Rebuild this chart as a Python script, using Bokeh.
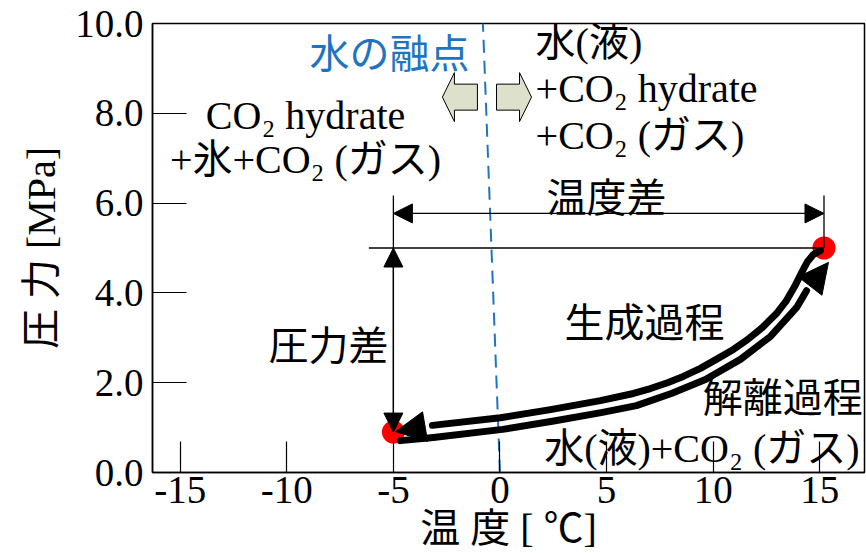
from bokeh.plotting import figure
from bokeh.models import Range1d, FixedTicker, Arrow, NormalHead, Label
from bokeh.embed import file_html
from bokeh.resources import INLINE

# ---- axis ticks -------------------------------------------------------------
x_ticks = [-15, -10, -5, 0, 5, 10, 15]
x_tick_labels = ["-15", "-10", "-5", "0", "5", "10", "15"]
y_ticks = [0, 2, 4, 6, 8, 10]
y_tick_labels = ["0.0", "2.0", "4.0", "6.0", "8.0", "10.0"]

# ---- process paths (temperature [degC], pressure [MPa]) ---------------------
# formation: cooling from the upper-right state; last point is the arrow tip
formation_T = [15.03, 14.71, 14.43, 14.15, 13.82, 13.44, 12.97, 12.31, 11.61,
               10.95, 10.15, 9.40, 8.60, 7.86, 7.06, 6.26, 4.71, 2.37, 0.02,
               -3.17, -4.90]
formation_P = [4.94, 4.86, 4.70, 4.45, 4.14, 3.83, 3.54, 3.23, 2.96,
               2.74, 2.52, 2.32, 2.14, 2.00, 1.87, 1.76, 1.60, 1.40, 1.22,
               1.05, 0.91]
# dissociation: heating from the lower-left state; last point is the arrow tip
dissociation_T = [-4.67, -3.12, 0.12, 2.46, 4.81, 6.40, 8.04, 9.64, 11.28,
                  12.69, 13.91, 14.38, 15.41]
dissociation_P = [0.71, 0.78, 0.96, 1.14, 1.34, 1.49, 1.76, 2.07, 2.52,
                  3.03, 3.67, 4.05, 4.68]

# start / end states
state_T = [-5.0, 15.2]
state_P = [0.9, 5.0]

# melting point of water
melt_T = [0.0, -0.8]
melt_P = [0.0, 10.0]

X_MIN, X_MAX = -16.3, 17.1
Y_MIN, Y_MAX = 0.0, 10.0
FRAME_W, FRAME_H = 712, 449
PX_T = FRAME_W / (X_MAX - X_MIN)   # pixels per degC
PX_P = FRAME_H / (Y_MAX - Y_MIN)   # pixels per MPa

SERIF_MIX = "Liberation Serif, Noto Sans CJK JP"
GOTHIC = "Noto Sans CJK JP"
BLUE = "#1f74c2"

p = figure(width=866, height=553, output_backend="svg", toolbar_location=None,
           x_range=Range1d(X_MIN, X_MAX), y_range=Range1d(Y_MIN, Y_MAX),
           min_border_left=152, min_border_right=2, min_border_top=23,
           min_border_bottom=81, background_fill_color="white",
           border_fill_color="white")
p.grid.visible = False
p.outline_line_color = "black"
p.outline_line_width = 1.5

for ax, ticks, labels, tin in ((p.xaxis, x_ticks, x_tick_labels, 31),
                               (p.yaxis, y_ticks, y_tick_labels, 34)):
    ax.ticker = FixedTicker(ticks=ticks)
    ax.major_label_overrides = dict(zip(ticks, labels))
    ax.major_tick_in = tin
    ax.major_tick_out = 0
    ax.minor_tick_line_color = None
    ax.major_tick_line_color = "black"
    ax.major_tick_line_width = 1.2
    ax.axis_line_color = "black"
    ax.axis_line_width = 1.5
    ax.major_label_text_font = "Liberation Serif"
    ax.major_label_text_font_size = "39px"
    ax.major_label_text_color = "black"
    ax.axis_label_text_font = SERIF_MIX
    ax.axis_label_text_font_size = "40px"
    ax.axis_label_text_font_style = "normal"
    ax.axis_label_text_color = "black"

p.xaxis.axis_label = "温 度 [ ℃]"
p.yaxis.axis_label = "圧 力 [MPa]"
p.xaxis.major_label_standoff = 4
p.yaxis.major_label_standoff = 9
p.xaxis.axis_label_standoff = 0
p.yaxis.axis_label_standoff = 8

# state points
p.scatter(state_T, state_P, size=23, fill_color="#ff0000", line_color=None)

# melting point line
p.line(melt_T, melt_P, line_color=BLUE, line_width=2, line_dash="13 8")

# dimension / extension lines
ext_top = 6.17
p.segment(x0=[state_T[0], state_T[1], -6.15], y0=[ext_top, ext_top, state_P[1]],
          x1=[state_T[0], state_T[1], state_T[1]], y1=[state_P[0], state_P[1], state_P[1]],
          line_color="black", line_width=1.3)

def dim_head():
    return NormalHead(size=19, fill_color="black", line_color="black", line_width=1)

p.add_layout(Arrow(x_start=state_T[0], y_start=5.77, x_end=state_T[1], y_end=5.77,
                   start=dim_head(), end=dim_head(), line_color="black", line_width=1.3))
p.add_layout(Arrow(x_start=state_T[0], y_start=state_P[1], x_end=state_T[0], y_end=state_P[0],
                   start=dim_head(), end=dim_head(), line_color="black", line_width=1.3))

# process curves with arrow heads at their ends
for T, P in ((formation_T, formation_P), (dissociation_T, dissociation_P)):
    p.line(T[:-1], P[:-1], line_color="black", line_width=7,
           line_cap="round", line_join="round")
    p.add_layout(Arrow(x_start=T[-2], y_start=P[-2], x_end=T[-1], y_end=P[-1],
                       end=NormalHead(size=30, fill_color="black", line_color="black",
                                      line_width=1),
                       line_alpha=0))

# block arrows on either side of the melting line
def block_arrow(tip_T, mid_P, direction):
    # outline in pixels, measured from the tip; direction +1 points right
    shape = [(0, 0), (12, 24.5), (12, 13), (35, 13), (35, -13), (12, -13), (12, -24.5)]
    xs = [tip_T - direction * dx / PX_T for dx, dy in shape]
    ys = [mid_P + dy / PX_P for dx, dy in shape]
    return xs, ys

for tip, d in ((-2.70, -1), (1.48, 1)):
    bx, by = block_arrow(tip, 8.36, d)
    p.patch(bx, by, fill_color="#dde1cc", line_color="black", line_width=1)

def label(x, y, text, font, align="center", color="black", size="40px"):
    p.add_layout(Label(x=x, y=y, text=text, text_font=font, text_font_size=size,
                       text_align=align, text_baseline="alphabetic",
                       text_color=color))

label(-5.18, 9.39, "水の融点", GOTHIC, color=BLUE)
label(-9.12, 7.95, "CO₂ hydrate", SERIF_MIX)
label(-9.12, 6.97, "+氷+CO₂ (ガス)", SERIF_MIX)
label(1.67, 9.57, "水(液)", SERIF_MIX, align="left")
label(1.67, 8.55, "+CO₂ hydrate", SERIF_MIX, align="left")
label(1.67, 7.50, "+CO₂ (ガス)", SERIF_MIX, align="left")
label(5.0, 6.19, "温度差", GOTHIC)
label(-8.04, 2.89, "圧力差", GOTHIC)
label(6.78, 3.40, "生成過程", GOTHIC)
label(13.27, 1.73, "解離過程", GOTHIC)
label(9.47, 0.53, "水(液)+CO₂ (ガス)", SERIF_MIX)

open("out.html", "w").write(file_html(p, INLINE))
